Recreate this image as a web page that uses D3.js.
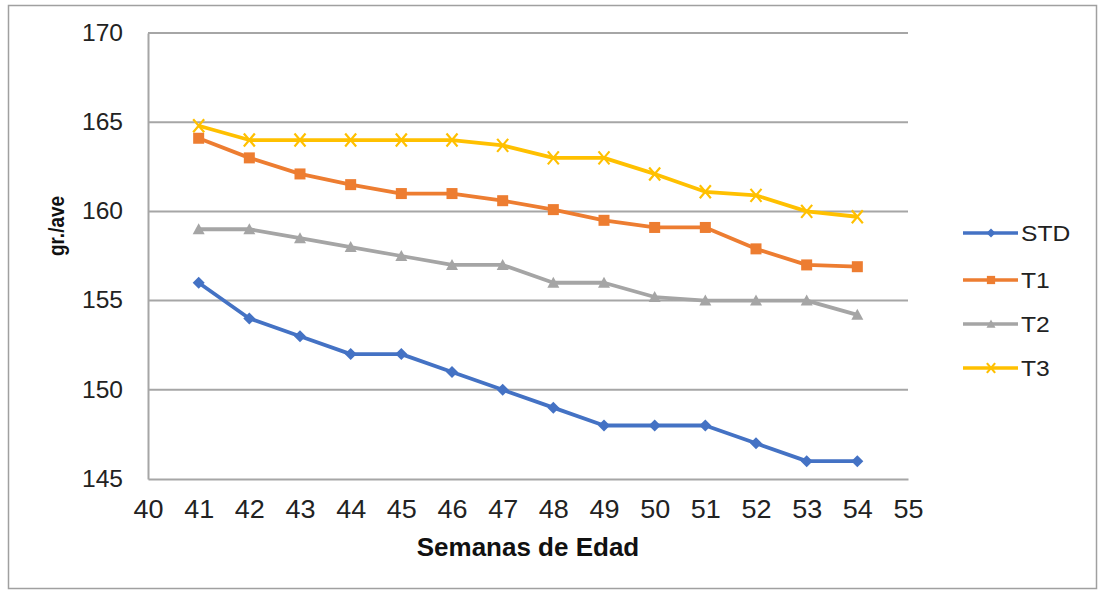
<!DOCTYPE html>
<html><head><meta charset="utf-8">
<script src="https://cdn.jsdelivr.net/npm/d3@7/dist/d3.min.js"></script>
<style>body{margin:0;background:#fff}svg{display:block}text{font-family:"Liberation Sans",Arial,sans-serif}</style>
</head><body>
<svg id="c" width="1099" height="594"></svg>
<script>
const weeks = [41,42,43,44,45,46,47,48,49,50,51,52,53,54];
const STD = [156,154,153,152,152,151,150,149,148,148,148,147,146,146];
const T1 = [164.1,163,162.1,161.5,161,161,160.6,160.1,159.5,159.1,159.1,157.9,157,156.9];
const T2 = [159,159,158.5,158,157.5,157,157,156,156,155.2,155,155,155,154.2];
const T3 = [164.8,164,164,164,164,164,163.7,163,163,162.1,161.1,160.9,160,159.7];
const seriesNames = ["STD","T1","T2","T3"];
const xTicks = [40,41,42,43,44,45,46,47,48,49,50,51,52,53,54,55];
const yTicks = [145,150,155,160,165,170];

const svg = d3.select("#c");
svg.append("rect").attr("x",8.5).attr("y",5.5).attr("width",1088).attr("height",583)
  .attr("fill","#fff").attr("stroke","#a0a0a0").attr("stroke-width",1.5);

const L=148,R=908,T=33,B=479;
const x = d3.scaleLinear().domain([40,55]).range([L,R]);
const y = d3.scaleLinear().domain([145,170]).range([B,T]);

function stretch(sel, s){
  sel.each(function(){
    const t = d3.select(this);
    const tx = +t.attr("x") || 0;
    t.attr("transform", `translate(${tx*(1-s)},0) scale(${s},1)`);
  });
}

// gridlines
svg.append("g").selectAll("line").data(yTicks.filter(d=>d>145)).join("line")
  .attr("x1",L).attr("x2",R).attr("y1",d=>y(d)).attr("y2",d=>y(d))
  .attr("stroke","#a6a6a6").attr("stroke-width",2);

// axes
const xa = svg.append("g").attr("transform",`translate(0,${B})`)
  .call(d3.axisBottom(x).tickValues(xTicks).tickFormat(d3.format("d")).tickSize(0).tickPadding(21));
xa.select(".domain").attr("stroke","#a6a6a6").attr("stroke-width",2);
xa.selectAll("text").attr("font-size",25).attr("fill","#222").call(stretch,1.08);
const ya = svg.append("g").attr("transform",`translate(${L},0)`)
  .call(d3.axisLeft(y).tickValues(yTicks).tickSize(0).tickPadding(25));
ya.select(".domain").attr("stroke","#a6a6a6").attr("stroke-width",2);
ya.selectAll("text").attr("font-size",23).attr("fill","#222").call(stretch,1.07);

svg.append("text").attr("x",528).attr("y",556).attr("text-anchor","middle")
  .attr("font-size",25).attr("font-weight","bold").attr("fill","#111").text("Semanas de Edad").call(stretch,1.04);
svg.append("text").attr("transform","translate(64,226) rotate(-90) scale(1,1.12)").attr("text-anchor","middle")
  .attr("font-size",19).attr("font-weight","bold").attr("fill","#111").text("gr./ave");

const colors = {STD:"#4472c4",T1:"#ed7d31",T2:"#a5a5a5",T3:"#ffc000"};
const data = {STD,T1,T2,T3};
const line = d3.line().x((d,i)=>x(weeks[i])).y(d=>y(d));

function marker(g,name,cx,cy,k){
  const c = colors[name];
  if(name==="STD") g.append("path").attr("d",`M${cx},${cy-6*k}L${cx+6*k},${cy}L${cx},${cy+6*k}L${cx-6*k},${cy}Z`).attr("fill",c);
  else if(name==="T1") g.append("rect").attr("x",cx-5.5*k).attr("y",cy-5.5*k).attr("width",11*k).attr("height",11*k).attr("fill",c);
  else if(name==="T2") g.append("path").attr("d",`M${cx},${cy-6*k}L${cx+6*k},${cy+5*k}L${cx-6*k},${cy+5*k}Z`).attr("fill",c);
  else g.append("path").attr("d",`M${cx-5.5*k},${cy-6.5*k}L${cx+5.5*k},${cy+6.5*k}M${cx+5.5*k},${cy-6.5*k}L${cx-5.5*k},${cy+6.5*k}`).attr("stroke",c).attr("stroke-width",2.2);
}

seriesNames.forEach(n=>{
  const g = svg.append("g");
  g.append("path").attr("d",line(data[n])).attr("fill","none").attr("stroke",colors[n]).attr("stroke-width",3.8).attr("stroke-linejoin","round");
  data[n].forEach((v,i)=>marker(g,n,x(weeks[i]),y(v),1));
});

// legend
const legY = [233,280,324,368];
seriesNames.forEach((n,i)=>{
  const g = svg.append("g");
  g.append("line").attr("x1",963).attr("x2",1018).attr("y1",legY[i]).attr("y2",legY[i]).attr("stroke",colors[n]).attr("stroke-width",3.5);
  marker(g,n,991,legY[i],0.75);
  g.append("text").attr("x",1021).attr("y",legY[i]+8).attr("font-size",22).attr("fill","#222").text(n).call(stretch,1.12);
});
</script>
</body></html>
